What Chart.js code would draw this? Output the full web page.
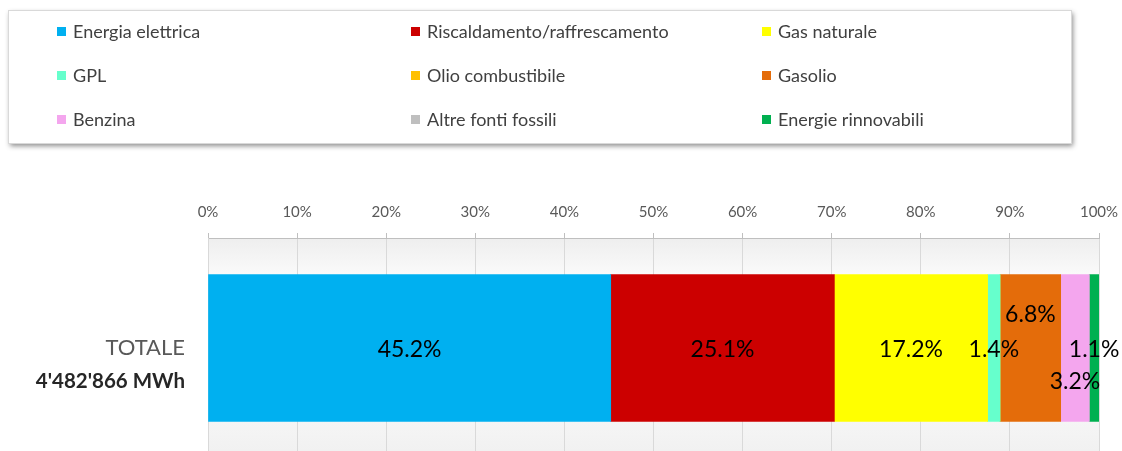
<!DOCTYPE html>
<html>
<head>
<meta charset="utf-8">
<script src="https://cdn.jsdelivr.net/npm/chart.js@4"></script>
<style>
  html, body { margin: 0; padding: 0; background: #fff; overflow: hidden; }
</style>
</head>
<body>
<canvas id="graphEnergia" width="1122" height="458"></canvas>
<script>
// categoria e serie (percentuali sul totale)
const categorie = ['TOTALE'];
const totaleLabel = "4'482'866 MWh";
const vettori = ['Energia elettrica', 'Riscaldamento/raffrescamento', 'Gas naturale',
  'GPL', 'Olio combustibile', 'Gasolio', 'Benzina', 'Altre fonti fossili', 'Energie rinnovabili'];
const quote = [45.2, 25.1, 17.2, 1.4, 0, 6.8, 3.2, 0, 1.1];
const colori = ['#00b0f0', '#cc0000', '#ffff00', '#66ffcc', '#ffc000', '#e46c0a', '#f4a6ee', '#bfbfbf', '#00b050'];
const tickValori = [0, 10, 20, 30, 40, 50, 60, 70, 80, 90, 100];

const FONT = 'Lato, "Open Sans", sans-serif';

// sfondo sfumato dell'area del grafico
const sfondoPlugin = {
  id: 'sfondo',
  beforeDraw(chart) {
    const { ctx, chartArea: a } = chart;
    const g = ctx.createLinearGradient(0, a.top, 0, a.bottom);
    g.addColorStop(0, '#eeeeee');
    g.addColorStop(0.18, '#fbfbfb');
    g.addColorStop(0.5, '#ffffff');
    g.addColorStop(1, '#f0f0f0');
    ctx.save();
    ctx.fillStyle = g;
    ctx.fillRect(a.left, a.top, a.right - a.left, a.bottom - a.top);
    ctx.restore();
  }
};

// etichette percentuali dentro le barre
const etichettePlugin = {
  id: 'etichette',
  afterDatasetsDraw(chart, args, opts) {
    const ctx = chart.ctx;
    ctx.save();
    ctx.font = '23px ' + FONT;
    ctx.fillStyle = '#000';
    ctx.textAlign = 'center';
    ctx.textBaseline = 'middle';
    chart.data.datasets.forEach((ds, i) => {
      const v = ds.data[0];
      if (!v) return;
      const el = chart.getDatasetMeta(i).data[0];
      const x = (el.x + el.base) / 2;
      const dy = (opts.spostamenti[i] || 0);
      ctx.fillText(v.toFixed(1) + '%', x, el.y + 2 + dy);
    });
    ctx.restore();
  }
};

// etichetta della categoria a sinistra
const categoriaPlugin = {
  id: 'categoria',
  afterDraw(chart) {
    const ctx = chart.ctx;
    const y = chart.scales.y.getPixelForValue(0);
    const x = chart.chartArea.left - 23;
    ctx.save();
    ctx.textAlign = 'right';
    ctx.textBaseline = 'middle';
    ctx.fillStyle = '#595959';
    ctx.font = '22px ' + FONT;
    ctx.fillText(categorie[0], x, y);
    ctx.fillStyle = '#262626';
    ctx.font = 'bold 20.5px ' + FONT;
    ctx.fillText(totaleLabel, x, y + 33);
    ctx.restore();
  }
};

// legenda in riquadro a tre colonne
const legendaPlugin = {
  id: 'legenda',
  afterDraw(chart, args, opts) {
    const ctx = chart.ctx;
    const b = opts.box;
    ctx.save();
    ctx.shadowColor = 'rgba(0,0,0,0.45)';
    ctx.shadowBlur = 5;
    ctx.shadowOffsetX = 2;
    ctx.shadowOffsetY = 3;
    ctx.fillStyle = '#fff';
    ctx.fillRect(b.x, b.y, b.w, b.h);
    ctx.shadowColor = 'transparent';
    ctx.strokeStyle = '#d9d9d9';
    ctx.lineWidth = 1;
    ctx.strokeRect(b.x + 0.5, b.y + 0.5, b.w, b.h);
    ctx.font = '18px ' + FONT;
    ctx.textBaseline = 'middle';
    ctx.textAlign = 'left';
    chart.data.datasets.forEach((ds, i) => {
      const cx = opts.colonne[i % 3];
      const cy = opts.righe[Math.floor(i / 3)];
      ctx.fillStyle = ds.backgroundColor;
      ctx.fillRect(cx, cy - 4, 9, 9);
      ctx.fillStyle = '#404040';
      ctx.fillText(ds.label, cx + 16, cy + 1);
    });
    ctx.restore();
  }
};

const ctx = document.getElementById('graphEnergia').getContext('2d');

const graphEnergia = new Chart(ctx, {
  type: 'bar',
  data: {
    labels: categorie,
    datasets: vettori.map((nome, i) => ({
      label: nome,
      data: [quote[i]],
      backgroundColor: colori[i],
      borderWidth: 0,
      barThickness: 147
    }))
  },
  options: {
    indexAxis: 'y',
    responsive: false,
    animation: false,
    layout: {
      padding: { left: 200, right: 23, top: 191, bottom: 0 }
    },
    plugins: {
      legend: { display: false },
      tooltip: { enabled: false },
      etichette: { spostamenti: { 5: -35, 6: 32 } },
      legenda: {
        box: { x: 8, y: 10, w: 1063, h: 133 },
        colonne: [57, 411, 762],
        righe: [31, 75, 119]
      }
    },
    scales: {
      x: {
        position: 'top',
        stacked: true,
        min: 0,
        max: 100,
        afterBuildTicks: (scale) => {
          scale.ticks = tickValori.map(v => ({ value: v }));
        },
        afterFit: (scale) => {
          // le etichette estreme stanno nel margine del layout
          scale.paddingLeft = 0;
          scale.paddingRight = 0;
        },
        ticks: {
          callback: (v) => v + '%',
          color: '#595959',
          font: { family: FONT, size: 15 },
          padding: 12,
          maxRotation: 0
        },
        grid: {
          color: '#d9d9d9',
          tickLength: 5,
          tickColor: '#bfbfbf'
        },
        border: { color: '#bfbfbf' }
      },
      y: {
        stacked: true,
        ticks: { display: false },
        grid: { display: false },
        border: { color: '#d9d9d9' }
      }
    }
  },
  plugins: [sfondoPlugin, etichettePlugin, categoriaPlugin, legendaPlugin]
});
</script>
</body>
</html>
